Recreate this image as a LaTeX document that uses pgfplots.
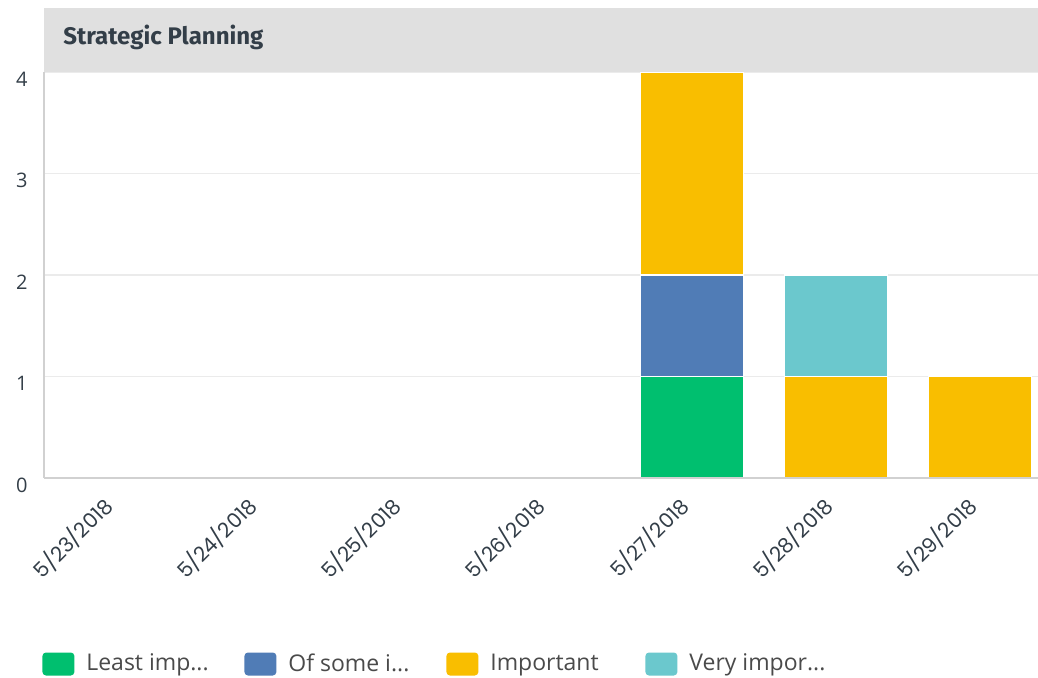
\documentclass[border=0pt]{standalone}
\usepackage{pgfplots}
\pgfplotsset{compat=1.18}
\usepackage{fontspec}
\setmainfont{Open Sans}
\newfontfamily\titlefont{Fira Sans}
\newfontfamily\datefont{Poppins}

\definecolor{leastc}{HTML}{00BF6F}
\definecolor{somec}{HTML}{507CB6}
\definecolor{impc}{HTML}{F9BE00}
\definecolor{veryc}{HTML}{6BC8CD}
\definecolor{bandc}{HTML}{E0E0E0}
\definecolor{txtc}{HTML}{333E48}
\definecolor{legc}{HTML}{4A4A4A}

\begin{document}
\begin{tikzpicture}
\begin{axis}[
  name=main,
  scale only axis,
  width=497pt, height=203pt,
  xmin=-0.5, xmax=6.403, ymin=0, ymax=4,
  ybar stacked, bar width=51.5pt,
  axis x line*=bottom, axis y line*=left,
  axis line style={draw=none},
  major tick length=0pt,
  /pgf/number format/assume math mode=true,
  ytick={0,1,2,3,4},
  ymajorgrids, grid style={draw=black!8, line width=0.6pt},
  xtick={0,...,6},
  xticklabels={5/23/2018,5/24/2018,5/25/2018,5/26/2018,5/27/2018,5/28/2018,5/29/2018},
  xticklabel style={font=\datefont\fontsize{10.3}{12}\selectfont, text=txtc, rotate=45, anchor=east, inner sep=0pt, xshift=-11pt, yshift=-6pt},
  yticklabel style={font=\fontsize{10}{12}\selectfont, text=txtc, anchor=east, inner sep=0pt, xshift=-8pt, yshift=-3.5pt},
  every axis plot/.append style={draw=white, line width=0.6pt},
  legend columns=4,
  legend style={at={(axis description cs:0,0)}, anchor=west, yshift=-93pt, xshift=-1pt, draw=none, inner sep=0pt,
    font=\fontsize{11.5}{14}\selectfont, text=legc,
    /tikz/every odd column/.append style={column sep=4pt},
    /tikz/every even column/.append style={column sep=0pt}},
  legend image code/.code={\fill[#1, draw=none, rounded corners=1.8pt] (0pt,-5.75pt) rectangle (16pt,5.75pt);},
]
\addplot[fill=leastc] coordinates {(0,0) (1,0) (2,0) (3,0) (4,1) (5,0) (6,0)};
\addlegendentry{\makebox[77pt][l]{Least imp...}}
\addplot[fill=somec] coordinates {(0,0) (1,0) (2,0) (3,0) (4,1) (5,0) (6,0)};
\addlegendentry{\makebox[77pt][l]{Of some i...}}
\addplot[fill=impc] coordinates {(0,0) (1,0) (2,0) (3,0) (4,2) (5,1) (6,1)};
\addlegendentry{\makebox[75.5pt][l]{Important}}
\addplot[fill=veryc] coordinates {(0,0) (1,0) (2,0) (3,0) (4,0) (5,1) (6,0)};
\addlegendentry{\makebox[77pt][l]{Very impor...}}
\end{axis}
% frame lines, title band
\draw[black!18, line width=0.8pt] (main.south west) -- (main.south east);
\draw[black!18, line width=0.8pt] (main.south west) -- (main.north west);
\fill[bandc] (main.north west) rectangle ([yshift=32pt]main.north east);
\node[anchor=west, inner sep=0pt, text=txtc, font=\titlefont\bfseries\fontsize{12}{14}\selectfont]
  at ([xshift=9.5pt, yshift=17.5pt]main.north west) {Strategic Planning};
\pgfresetboundingbox
\useasboundingbox ([xshift=-22pt, yshift=-100pt]main.south west) rectangle ([yshift=36pt]main.north east);
\end{tikzpicture}
\end{document}
